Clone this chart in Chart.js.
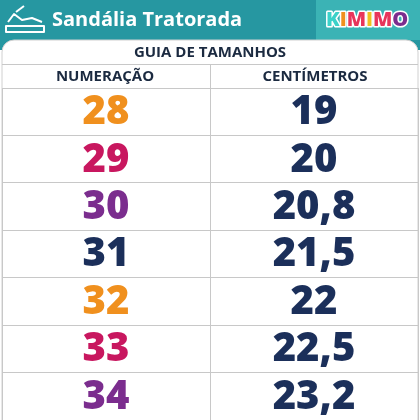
<!DOCTYPE html>
<html><head><meta charset="utf-8">
<script src="https://cdn.jsdelivr.net/npm/chart.js@4"></script>
<style>html,body{margin:0;padding:0;background:#fff}#c{display:block}</style>
</head><body><canvas id="c" width="420" height="420"></canvas>
<script>
const sizes = ['28','29','30','31','32','33','34'];
const centimeters = ['19','20','20,8','21,5','22','22,5','23,2'];
const sizeColors = ['#f0901e','#c8175f','#7b2d8e','#1b2f5a','#f0901e','#c8175f','#7b2d8e'];
const title = 'Sandália Tratorada';
const tableTitle = 'GUIA DE TAMANHOS';
const colHeaders = ['NUMERAÇÃO','CENTÍMETROS'];
const FONT = '"Open Sans", Lato, sans-serif';

const tablePlugin = {
  id:'table',
  beforeDraw(chart){
    const c = chart.ctx, W = chart.width;
    c.save();
    c.fillStyle='#fff'; c.fillRect(0,0,W,chart.height);
    c.fillStyle='#2697a1'; c.fillRect(0,0,W,50);
    c.fillStyle='#3bb3b5'; c.fillRect(316,0,W-316,40);
    c.fillStyle='#fff'; c.strokeStyle='#d0d0d0'; c.lineWidth=1;
    c.beginPath(); c.roundRect(2,40,W-4,400,12); c.fill(); c.stroke();
    c.strokeStyle='#fff'; c.lineWidth=2; c.lineJoin='round';
    c.beginPath(); c.moveTo(6,26); c.lineTo(44,26); c.lineTo(44,32); c.lineTo(6,32); c.closePath(); c.stroke();
    c.beginPath(); c.moveTo(8,22); c.lineTo(14,14); c.lineTo(22,20); c.lineTo(32,18); c.lineTo(42,22); c.stroke();
    c.beginPath(); c.moveTo(16,12); c.lineTo(24,6); c.stroke();
    c.fillStyle='#fff'; c.font='bold 20px '+FONT; c.textBaseline='middle'; c.textAlign='left';
    c.fillText(title,52,20);
    const logo='KIMIMO', lc=['#3bd1c9','#f0901e','#e8355a','#f0c020','#e8355a','#7b2d8e'];
    c.font='800 20px '+FONT; c.lineWidth=3; c.strokeStyle='#fff';
    let x=326;
    for(let i=0;i<logo.length;i++){ c.strokeText(logo[i],x,20); c.fillStyle=lc[i]; c.fillText(logo[i],x,20); x+=c.measureText(logo[i]).width; }
    c.fillStyle='#1b2a40'; c.textAlign='center';
    c.font='bold 15px '+FONT;
    c.fillText(tableTitle,W/2,53);
    c.fillText(colHeaders[0],105,77);
    c.fillText(colHeaders[1],315,77);
    c.strokeStyle='#c8c8c8'; c.lineWidth=1;
    c.beginPath(); c.moveTo(2,64.5); c.lineTo(W-2,64.5); c.moveTo(2,88.5); c.lineTo(W-2,88.5);
    c.moveTo(210.5,64); c.lineTo(210.5,88); c.stroke();
    c.restore();
  },
  afterDatasetsDraw(chart){
    const c=chart.ctx, xs=chart.scales.x, ys=chart.scales.y;
    c.save(); c.textAlign='center'; c.textBaseline='middle'; c.font='800 40px '+FONT;
    sizes.forEach((s,i)=>{
      const y=ys.getPixelForValue(i)+1;
      c.fillStyle=sizeColors[i]; c.fillText(s,xs.getPixelForValue(0.5),y);
      c.fillStyle='#1b2f5a'; c.fillText(centimeters[i],xs.getPixelForValue(1.5),y);
    });
    c.restore();
  }
};

new Chart(document.getElementById('c'),{
  type:'scatter',
  data:{labels:sizes,datasets:[
    {data:sizes.map((s,i)=>({x:0.5,y:s})),pointRadius:0},
    {data:centimeters.map((s,i)=>({x:1.5,y:sizes[i]})),pointRadius:0}
  ]},
  options:{
    responsive:false,animation:false,
    layout:{padding:{top:88,left:2,right:2,bottom:-2}},
    plugins:{legend:{display:false},tooltip:{enabled:false}},
    scales:{
      x:{type:'linear',min:0,max:2,ticks:{display:false,stepSize:1},border:{display:false},grid:{color:'#c8c8c8',drawTicks:false}},
      y:{type:'category',labels:sizes,offset:true,ticks:{display:false},border:{display:false},grid:{offset:true,color:'#c8c8c8',drawTicks:false}}
    }
  },
  plugins:[tablePlugin]
});
</script></body></html>
